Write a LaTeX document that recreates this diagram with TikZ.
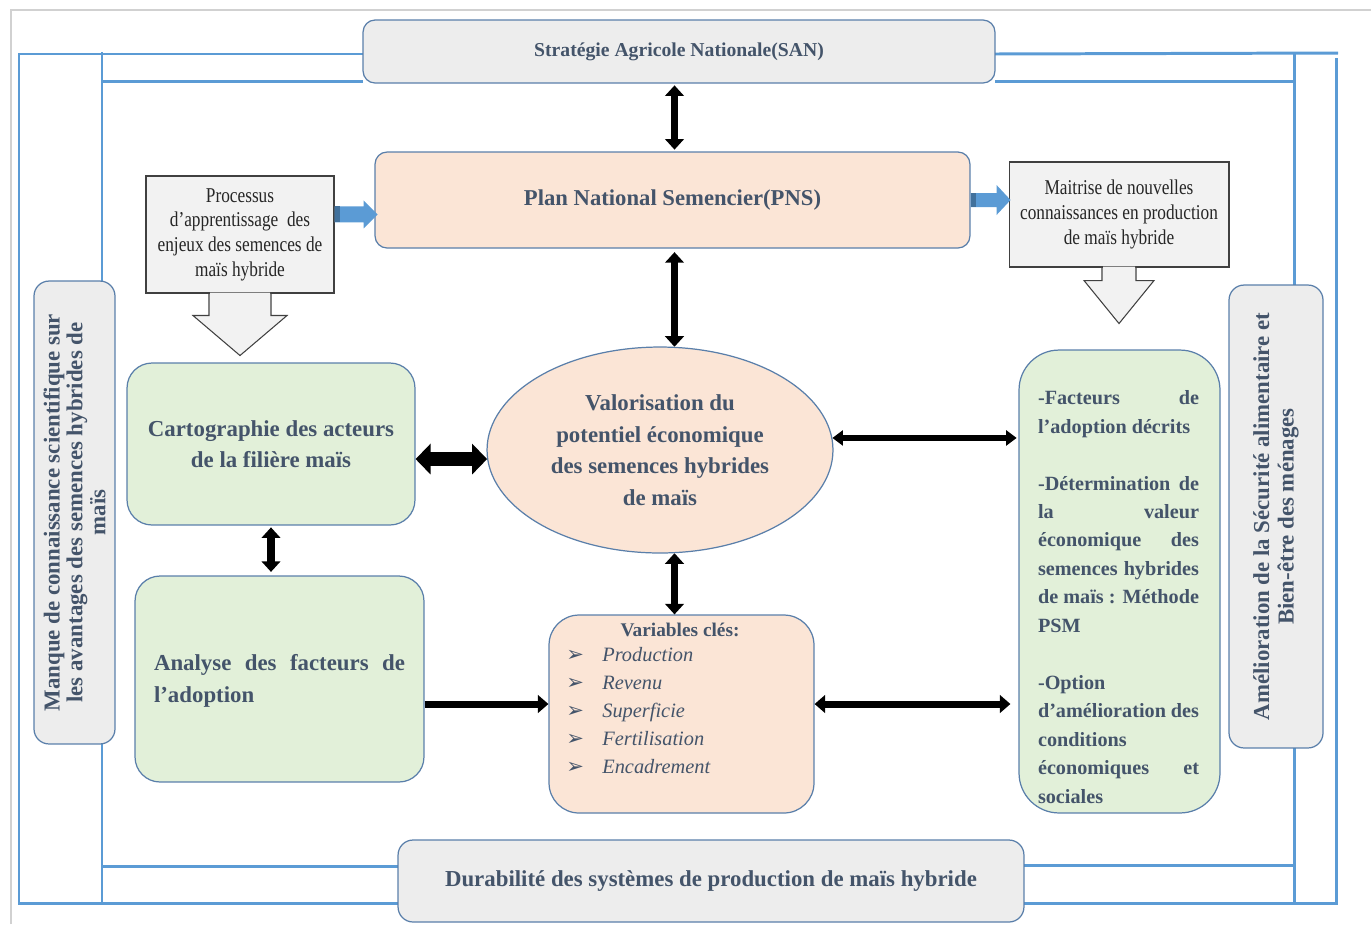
\documentclass[tikz,border=0pt]{standalone}
\usepackage{fontspec}
\setmainfont{Liberation Serif}
\newfontfamily\condfont[FakeStretch=0.82]{Liberation Serif}
\newfontfamily\symfont{DejaVu Sans}
\usetikzlibrary{arrows.meta,shapes.geometric}
\definecolor{txt}{HTML}{44546A}
\definecolor{frame}{HTML}{5B9BD5}
\definecolor{bord}{HTML}{5A7FAA}
\definecolor{darkblue}{HTML}{41719C}
\definecolor{peach}{HTML}{FBE5D6}
\definecolor{lgreen}{HTML}{E2F0D9}
\definecolor{lgray}{HTML}{EDEDED}
\definecolor{pgray}{HTML}{F2F2F2}
\hyphenpenalty=10000
\exhyphenpenalty=10000
\newcommand\bul{\makebox[0.72cm][l]{{\symfont\fontsize{12}{12}\selectfont ➢}}}
\begin{document}
\begin{tikzpicture}[x=0.02cm,y=-0.02cm,
  box/.style={draw=bord, line width=0.7pt, inner sep=0pt},
  bftext/.style={font=\bfseries\fontsize{13}{18}\selectfont, text=txt},
  condtext/.style={font=\condfont\fontsize{12}{14}\selectfont, text=black!85, align=center},
  fl/.style={draw=frame, line width=1.7pt},
  vdbl/.style={line width=4.5pt, arrows={Triangle[length=6pt,width=10.5pt]-Triangle[length=6pt,width=10.5pt]}},
  bigdbl/.style={line width=8pt, arrows={Triangle[length=8.5pt,width=17pt]-Triangle[length=8.5pt,width=17pt]}},
  thindbl/.style={line width=3pt, arrows={Triangle[length=6pt,width=8.5pt]-Triangle[length=6pt,width=8.5pt]}},
  middbl/.style={line width=4pt, arrows={Triangle[length=6pt,width=10pt]-Triangle[length=6pt,width=10pt]}},
  midr/.style={line width=4pt, arrows={-Triangle[length=6pt,width=10pt]}}
]
\useasboundingbox (0,0) rectangle (1371,924);
% light outer border
\draw[draw=black!18, line width=1.2pt] (11,924) -- (11,10) -- (1371,10);
% blue frame lines
\draw[fl] (363,54) -- (19,54) -- (19,903) -- (398,903);
\draw[fl] (363,81) -- (102,81);
\draw[fl] (102,52) -- (102,905);
\draw[fl] (102,866) -- (398,866);
\draw[fl] (995,54) -- (1338,53);
\draw[fl] (1336,58) -- (1336,903) -- (1024,903);
\draw[fl] (995,81) -- (1294,81);
\draw[fl] (1294,54) -- (1294,903);
\draw[fl] (1294,865) -- (1024,865);

% boxes
\node[box, fill=lgray, rounded corners=0.24cm, minimum width=12.64cm, minimum height=1.26cm,
  font=\bfseries\fontsize{11.2}{14}\selectfont, text=txt] (SAN) at (679,51.5) {Stratégie Agricole Nationale(SAN)};
\node[box, fill=peach, rounded corners=0.24cm, minimum width=11.9cm, minimum height=1.92cm,
  font=\bfseries\fontsize{12.9}{16}\selectfont, text=txt] (PNS) at (672.5,200) {Plan National Semencier(PNS)};

\node[draw=black!75, line width=0.6pt, fill=pgray, minimum width=3.76cm, minimum height=2.34cm, inner sep=0pt, condtext] (proc) at (240,234.5)
  {Processus\\ d’apprentissage~ des\\ enjeux des semences de\\ maïs hybride};
\fill[pgray] (proc.south) ++(-30,-1) -- ++(0,23) -- ++(-17,0) -- ++(47,40) -- ++(47,-40) -- ++(-17,0) -- ++(0,-23) -- cycle;
\draw[black!75, line width=0.6pt] (proc.south) ++(-31,0) -- ++(0,22) -- ++(-16,0) -- ++(47,40) -- ++(47,-40) -- ++(-16,0) -- ++(0,-22);

\node[draw=black!75, line width=0.6pt, fill=pgray, minimum width=4.4cm, minimum height=2.1cm, inner sep=0pt, condtext] (mait) at (1119,214.5)
  {Maitrise de nouvelles\\ connaissances en production\\ de maïs hybride};
\fill[pgray] (mait.south) ++(-16,-1) -- ++(0,14) -- ++(-19,0) -- ++(35,43) -- ++(35,-43) -- ++(-19,0) -- ++(0,-14) -- cycle;
\draw[black!75, line width=0.6pt] (mait.south) ++(-17,0) -- ++(0,13) -- ++(-18,0) -- ++(35,43) -- ++(35,-43) -- ++(-18,0) -- ++(0,-13);

% blue block arrows
\fill[frame] (proc.north east) ++(0,31) -- ++(29,0) -- ++(0,-6) -- ++(14,14) -- ++(-14,14) -- ++(0,-6) -- ++(-29,0) -- cycle;
\fill[darkblue] (proc.north east) ++(0,31) rectangle ++(5,16);
\fill[frame] (PNS.east) ++(0,-7) -- ++(26,0) -- ++(0,-8) -- ++(14,15) -- ++(-14,15) -- ++(0,-8) -- ++(-26,0) -- cycle;
\fill[darkblue] (PNS.east) ++(0,-7) rectangle ++(5,14);

\node[box, ellipse, fill=peach, minimum width=6.92cm, minimum height=4.12cm, bftext, align=center] (ell) at (660,450)
  {Valorisation du\\ potentiel économique\\ des semences hybrides\\ de maïs};

\node[box, fill=lgreen, rounded corners=0.5cm, minimum width=5.76cm, minimum height=3.24cm, bftext, align=center] (carto) at (271,444)
  {Cartographie des acteurs\\ de la filière maïs};
\node[box, fill=lgreen, rounded corners=0.5cm, minimum width=5.78cm, minimum height=4.12cm] (ana) at (279.5,679) {};
\node[bftext, text width=5.02cm, align=justify, inner sep=0pt] (anatxt) at (279.5,681)
  {Analyse des facteurs de\linebreak l’adoption};

\node[box, fill=peach, rounded corners=0.6cm, minimum width=5.3cm, minimum height=3.96cm] (var) at (681.5,714) {};
\node[font=\bfseries\fontsize{11}{13}\selectfont, text=txt, inner sep=0pt] (vtitle) at (680,630) {Variables clés:};
\node[anchor=north west, inner sep=0pt, align=left, font=\fontsize{11.6}{16}\selectfont, text=txt] (vlist) at (566,647)
  {\bul\textit{Production}\\ \bul\textit{Revenu}\\ \bul\textit{Superficie}\\ \bul\textit{Fertilisation}\\ \bul\textit{Encadrement}};

\node[box, fill=lgreen, rounded corners=0.8cm, minimum width=4.02cm, minimum height=9.26cm] (rgreen) at (1119.5,581.5) {};
\node[text width=3.22cm, align=justify, inner sep=0pt, font=\bfseries\fontsize{11.5}{16.2}\selectfont, text=txt] (rtxt) at (1118.5,597)
  {-Facteurs de\linebreak l’adoption décrits\\[16.2pt]
   -Détermination de\linebreak la valeur\linebreak économique des\linebreak semences hybrides\linebreak de maïs : Méthode\linebreak PSM\\[16.2pt]
   -Option\\ d’amélioration des\linebreak conditions\\ économiques et\linebreak sociales};

\node[box, fill=lgray, rounded corners=0.3cm, rotate=90, minimum width=9.26cm, minimum height=1.62cm,
  font=\bfseries\fontsize{13}{13}\selectfont, text=txt, align=center] (left) at (74.5,512.5)
  {Manque de connaissance scientifique sur\\ les avantages des semences hybrides de\\ maïs};
\node[box, fill=lgray, rounded corners=0.3cm, rotate=90, minimum width=9.26cm, minimum height=1.88cm,
  font=\bfseries\fontsize{13}{14}\selectfont, text=txt, align=center] (right) at (1276,516.5)
  {Amélioration de la Sécurité alimentaire et\\ Bien-être des ménages};

\node[box, fill=lgray, rounded corners=0.3cm, minimum width=12.52cm, minimum height=1.64cm, bftext] (bottom) at (711,881)
  {Durabilité des systèmes de production de maïs hybride};

% black arrows
\draw[vdbl, shorten <=1pt, shorten >=1pt] (SAN.south -| ell.82) -- (PNS.north -| ell.82);
\draw[vdbl, shorten <=2pt] (PNS.south -| ell.82) -- (ell.82);
\draw[vdbl] (ell.-82) -- (ell.-82 |- var.north);
\draw[vdbl, shorten <=1pt, shorten >=2pt] (carto.south) -- (carto.south |- ana.north);
\draw[bigdbl] (carto.east |- ell.183) -- (ell.183);
\draw[thindbl, shorten >=1pt] (ell.4) -- (ell.4 -| rgreen.west);
\coordinate (vrowl) at ([yshift=0.2cm]var.west);
\coordinate (vrowr) at ([yshift=0.2cm]var.east);
\draw[midr] (ana.east |- vrowl) -- (vrowl);
\draw[middbl, shorten >=0.16cm] (vrowr) -- (vrowr -| rgreen.west);
\end{tikzpicture}
\end{document}
